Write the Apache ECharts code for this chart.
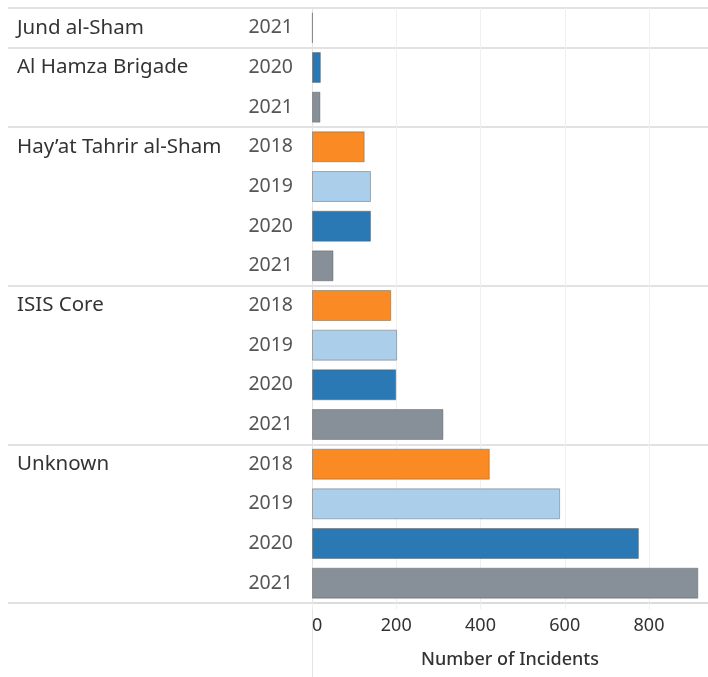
<!DOCTYPE html>
<html>
<head>
<meta charset="utf-8">
<script src="https://cdn.jsdelivr.net/npm/echarts@6/dist/echarts.min.js"></script>
<style>
html,body{margin:0;padding:0;background:#fff;}
#chart{width:708px;height:677px;}
</style>
</head>
<body>
<div id="chart"></div>
<script>
// ---- data ----
const rowGroup = [
  'Jund al-Sham',
  'Al Hamza Brigade', 'Al Hamza Brigade',
  'Hay’at Tahrir al-Sham', 'Hay’at Tahrir al-Sham', 'Hay’at Tahrir al-Sham', 'Hay’at Tahrir al-Sham',
  'ISIS Core', 'ISIS Core', 'ISIS Core', 'ISIS Core',
  'Unknown', 'Unknown', 'Unknown', 'Unknown'
];
const rowYear = [
  '2021',
  '2020', '2021',
  '2018', '2019', '2020', '2021',
  '2018', '2019', '2020', '2021',
  '2018', '2019', '2020', '2021'
];
const incidents = [
  2,
  21, 20,
  125, 140, 140, 51,
  188, 202, 200, 312,
  422, 589, 776, 917
];
const xTicks = [0, 200, 400, 600, 800];
const axisTitle = 'Number of Incidents';

// ---- styles ----
const yearColors = { '2018': '#FA8B24', '2019': '#ABCFEB', '2020': '#2A79B4', '2021': '#878F98' };
const FONT = '"Noto Sans", sans-serif';

const rowKeys = rowGroup.map((g, i) => i + '');
const isGroupStart = (i) => i === 0 || rowGroup[i] !== rowGroup[i - 1];
const sepLine = { show: true, interval: (i) => isGroupStart(i), lineStyle: { color: '#d9d9d9', width: 1.5 } };

const chart = echarts.init(document.getElementById('chart'), null, { renderer: 'canvas' });
const option = {
  animation: false,
  backgroundColor: '#fff',
  grid: [
    { left: 8, width: 304, top: 8, bottom: 74, containLabel: false },
    { left: 312, right: 0, top: 8, bottom: 74, containLabel: false }
  ],
  xAxis: [
    { gridIndex: 0, type: 'value', min: 0, max: 1, show: false },
    {
      gridIndex: 1, type: 'value', min: 0, max: 940, interval: 200,
      axisLine: { show: true, lineStyle: { color: '#d9d9d9', width: 1.5 } },
      axisTick: { show: true, length: 6, lineStyle: { color: '#f0f0f0' } },
      splitLine: { show: true, showMaxLine: false, showMinLine: false, lineStyle: { color: '#f0f0f0', width: 1 } },
      axisLabel: {
        showMaxLabel: false, alignMinLabel: 'left', margin: 14,
        color: '#333', fontSize: 18, fontFamily: FONT,
        formatter: (v) => xTicks.indexOf(v) >= 0 ? String(v) : ''
      },
      name: axisTitle, nameLocation: 'middle', nameGap: 48,
      nameTextStyle: { color: '#333', fontSize: 18, fontWeight: 500, fontFamily: FONT }
    }
  ],
  yAxis: [
    {
      gridIndex: 0, type: 'category', inverse: true, data: rowKeys,
      axisLine: { show: false }, axisTick: { show: false },
      splitLine: sepLine,
      axisLabel: {
        inside: true, margin: 9, align: 'left',
        color: '#333', fontSize: 20.5, fontFamily: FONT,
        interval: 0,
        formatter: (v, i) => isGroupStart(i) ? rowGroup[i] : ''
      }
    },
    {
      gridIndex: 1, type: 'category', inverse: true, data: rowKeys,
      axisLine: { show: true, lineStyle: { color: '#e3e3e3', width: 1 } },
      axisTick: { show: false },
      splitLine: sepLine,
      axisLabel: {
        margin: 19, align: 'right', interval: 0,
        color: '#555', fontSize: 19.5, fontFamily: FONT,
        formatter: (v, i) => rowYear[i]
      }
    }
  ],
  series: [{
    type: 'bar',
    xAxisIndex: 1, yAxisIndex: 1,
    barWidth: '78%',
    data: incidents.map((v, i) => ({
      value: v,
      itemStyle: { color: yearColors[rowYear[i]], borderColor: 'rgba(90,90,90,0.45)', borderWidth: 1 }
    }))
  }]
};
chart.setOption(option);

// continue the zero line below the axis to the bottom edge (decoration)
const zeroPt = chart.convertToPixel({ xAxisIndex: 1, yAxisIndex: 1 }, [0, rowKeys[rowKeys.length - 1]]);
const bottomY = chart.getHeight() - 74;
chart.setOption({
  graphic: [{
    type: 'line', silent: true,
    shape: { x1: Math.round(zeroPt[0]) + 0.5, y1: bottomY, x2: Math.round(zeroPt[0]) + 0.5, y2: chart.getHeight() },
    style: { stroke: '#e3e3e3', lineWidth: 1 }
  }]
});
</script>
</body>
</html>
